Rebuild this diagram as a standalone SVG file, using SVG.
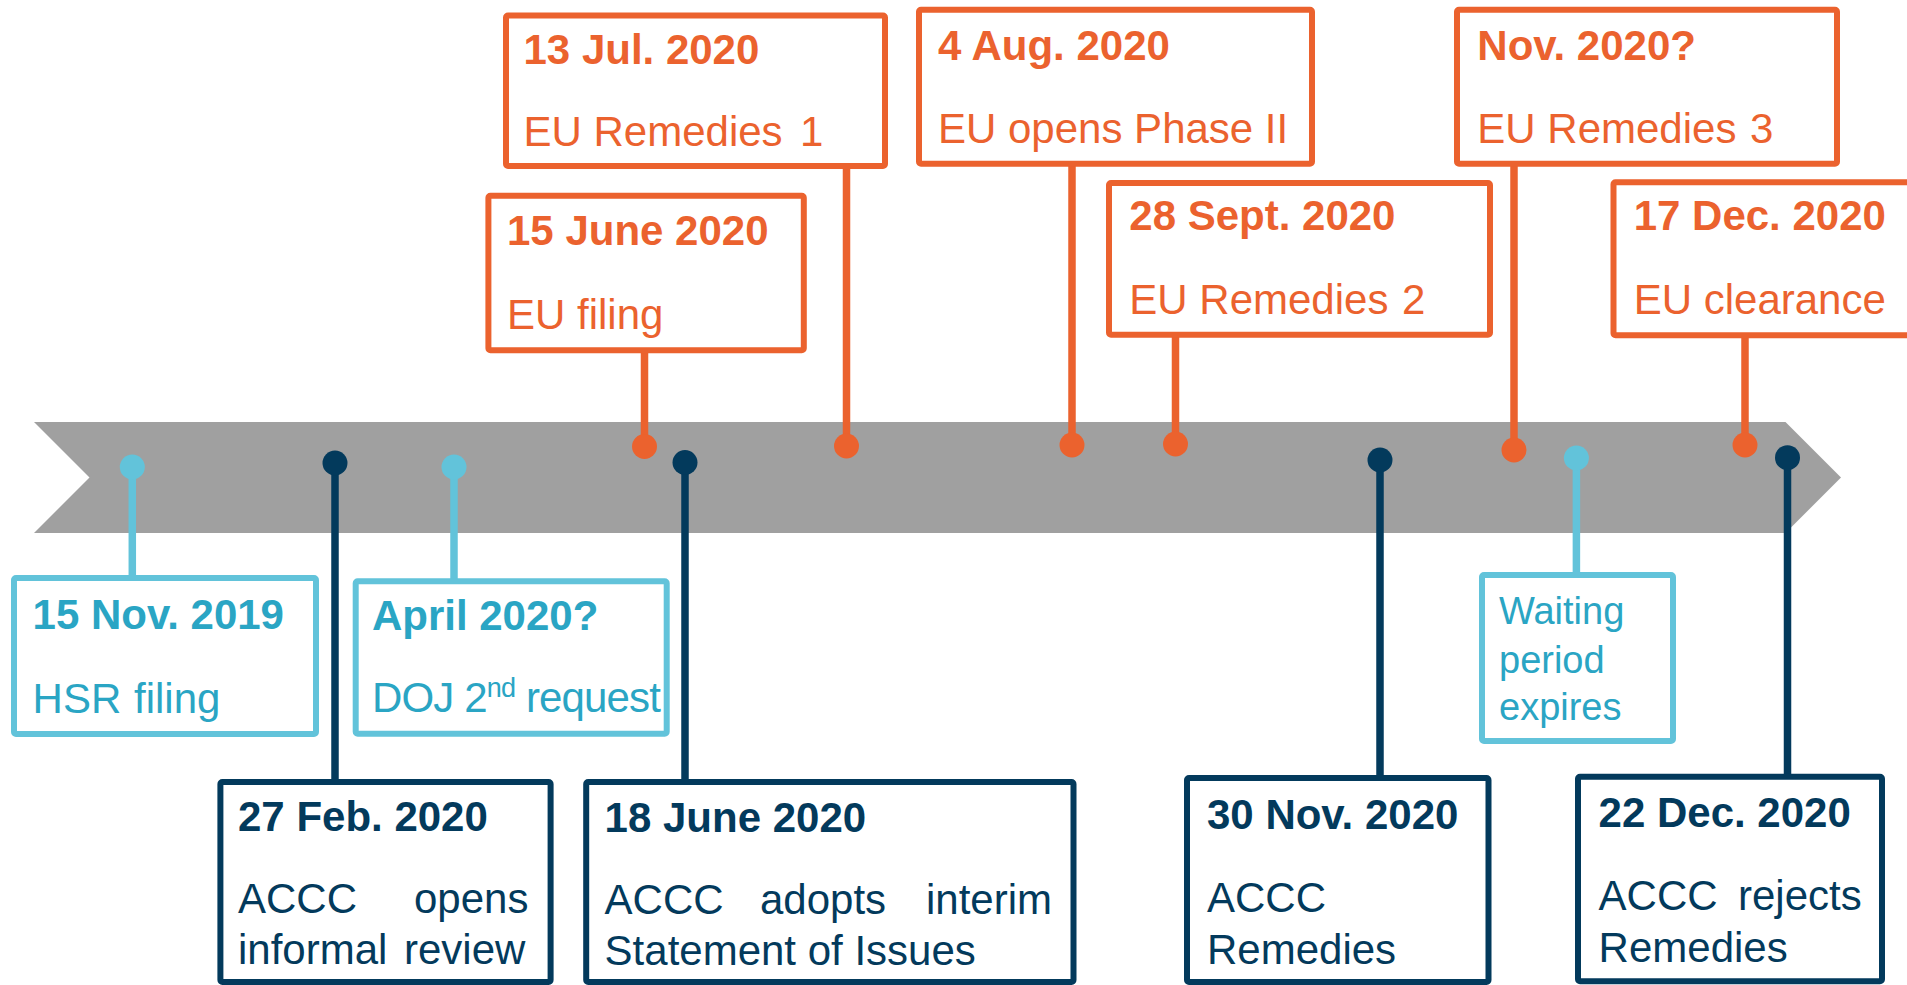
<svg xmlns="http://www.w3.org/2000/svg" width="1907" height="985" viewBox="0 0 1907 985">
  <style>
    text { font-family: "Liberation Sans", Arial, sans-serif; font-size: 42px; }
    .date { font-weight: bold; }
    .box { fill: #ffffff; stroke-width: 6; }
    .eu .box { stroke: #EB622E; }
    .eu text { fill: #EB622E; }
    .us .box { stroke: #62C3DA; }
    .us text { fill: #2AA5C4; }
    .au .box { stroke: #033A5C; }
    .au text { fill: #033A5C; }
    .small { font-size: 38px; }
    .stem { stroke-width: 7.5; fill: none; }
    .stem.eu-c { stroke: #EB622E; }
    .stem.us-c { stroke: #62C3DA; }
    .stem.au-c { stroke: #033A5C; }
    .dot-eu { fill: #EB622E; }
    .dot-us { fill: #62C3DA; }
    .dot-au { fill: #033A5C; }
  </style>

  <rect width="1907" height="985" fill="#ffffff"/>

  <!-- timeline banner -->
  <polygon id="timeline" points="34,422 1785.5,422 1841,477.5 1785.5,533 34,533 89.5,477.5" fill="#A0A0A0"/>

  <!-- stems and markers -->
  <g id="connectors">
    <line class="stem us-c" x1="132.3" y1="467" x2="132.3" y2="578"/>
    <line class="stem au-c" x1="335" y1="463" x2="335" y2="782"/>
    <line class="stem us-c" x1="454" y1="467" x2="454" y2="581"/>
    <line class="stem eu-c" x1="644.5" y1="350" x2="644.5" y2="446.5"/>
    <line class="stem au-c" x1="685" y1="462.5" x2="685" y2="782"/>
    <line class="stem eu-c" x1="846.5" y1="166" x2="846.5" y2="446"/>
    <line class="stem eu-c" x1="1072" y1="164" x2="1072" y2="445"/>
    <line class="stem eu-c" x1="1175.5" y1="335" x2="1175.5" y2="444"/>
    <line class="stem au-c" x1="1380" y1="460" x2="1380" y2="778"/>
    <line class="stem eu-c" x1="1514" y1="164" x2="1514" y2="450"/>
    <line class="stem us-c" x1="1576.4" y1="458" x2="1576.4" y2="575"/>
    <line class="stem eu-c" x1="1745" y1="336" x2="1745" y2="445"/>
    <line class="stem au-c" x1="1787.5" y1="457.7" x2="1787.5" y2="777"/>

    <circle class="dot-us" cx="132.3" cy="467" r="12.5"/>
    <circle class="dot-au" cx="335" cy="463" r="12.5"/>
    <circle class="dot-us" cx="454" cy="467" r="12.5"/>
    <circle class="dot-eu" cx="644.5" cy="446.5" r="12.5"/>
    <circle class="dot-au" cx="685" cy="462.5" r="12.5"/>
    <circle class="dot-eu" cx="846.5" cy="446" r="12.5"/>
    <circle class="dot-eu" cx="1072" cy="445" r="12.5"/>
    <circle class="dot-eu" cx="1175.5" cy="444" r="12.5"/>
    <circle class="dot-au" cx="1380" cy="460" r="12.5"/>
    <circle class="dot-eu" cx="1514" cy="450" r="12.5"/>
    <circle class="dot-us" cx="1576.4" cy="458" r="12.5"/>
    <circle class="dot-eu" cx="1745" cy="445" r="12.5"/>
    <circle class="dot-au" cx="1787.5" cy="457.7" r="12.5"/>
  </g>

  <!-- EU events (top row) -->
  <g id="eu-13-jul-2020" class="eu">
    <rect class="box" x="506" y="15.5" width="379" height="150.5" rx="2"/>
    <text class="date" x="523.5" y="63.5">13 Jul. 2020</text>
    <text x="523.5" y="145.5">EU Remedies <tspan x="800">1</tspan></text>
  </g>
  <g id="eu-15-june-2020" class="eu">
    <rect class="box" x="488.4" y="195.7" width="315.4" height="154.6" rx="2"/>
    <text class="date" x="507" y="245">15 June 2020</text>
    <text x="507" y="328.5">EU filing</text>
  </g>
  <g id="eu-4-aug-2020" class="eu">
    <rect class="box" x="919" y="9.7" width="393" height="154" rx="2"/>
    <text class="date" x="938" y="60">4 Aug. 2020</text>
    <text x="938" y="142.5">EU opens Phase II</text>
  </g>
  <g id="eu-28-sept-2020" class="eu">
    <rect class="box" x="1109" y="183" width="381" height="151.7" rx="2"/>
    <text class="date" x="1129.3" y="230">28 Sept. 2020</text>
    <text x="1129.3" y="314.3">EU Remedies <tspan x="1402">2</tspan></text>
  </g>
  <g id="eu-nov-2020" class="eu">
    <rect class="box" x="1457" y="9.7" width="380" height="154" rx="2"/>
    <text class="date" x="1477.3" y="60">Nov. 2020?</text>
    <text x="1477.3" y="142.5">EU Remedies <tspan x="1750">3</tspan></text>
  </g>
  <g id="eu-17-dec-2020" class="eu">
    <rect class="box" x="1613.5" y="182.3" width="310" height="153" rx="2"/>
    <text class="date" x="1633.7" y="230">17 Dec. 2020</text>
    <text x="1633.7" y="314.3">EU clearance</text>
  </g>

  <!-- US events (middle row) -->
  <g id="us-15-nov-2019" class="us">
    <rect class="box" x="14" y="578" width="302" height="156" rx="2"/>
    <text class="date" x="32.6" y="629.3">15 Nov. 2019</text>
    <text x="32.6" y="712.7">HSR <tspan x="134">filing</tspan></text>
  </g>
  <g id="us-april-2020" class="us">
    <rect class="box" x="355.7" y="581.3" width="311" height="152.4" rx="2"/>
    <text class="date" x="371.9" y="630">April 2020?</text>
    <text x="371.9" y="711.7" textLength="289" lengthAdjust="spacing">DOJ 2<tspan font-size="27" baseline-shift="super">nd</tspan> request</text>
  </g>
  <g id="us-waiting-period" class="us">
    <rect class="box" x="1482" y="575" width="191" height="166" rx="2"/>
    <text class="small" x="1499" y="624">Waiting</text>
    <text class="small" x="1499" y="672.5">period</text>
    <text class="small" x="1499" y="720">expires</text>
  </g>

  <!-- ACCC events (bottom row) -->
  <g id="au-27-feb-2020" class="au">
    <rect class="box" x="220.4" y="782" width="330.2" height="200" rx="2"/>
    <text class="date" x="238" y="831">27 Feb. 2020</text>
    <text x="238" y="913.3">ACCC<tspan x="414">opens</tspan></text>
    <text x="238" y="964">informal<tspan x="404">review</tspan></text>
  </g>
  <g id="au-18-june-2020" class="au">
    <rect class="box" x="586.2" y="782" width="487.3" height="200" rx="2"/>
    <text class="date" x="604.6" y="831.7">18 June 2020</text>
    <text x="604.6" y="914">ACCC<tspan x="760">adopts</tspan><tspan x="926">interim</tspan></text>
    <text x="604.6" y="965">Statement of Issues</text>
  </g>
  <g id="au-30-nov-2020" class="au">
    <rect class="box" x="1187" y="778" width="301.5" height="204" rx="2"/>
    <text class="date" x="1207" y="828.8">30 Nov. 2020</text>
    <text x="1207" y="912.4">ACCC</text>
    <text x="1207" y="963.7">Remedies</text>
  </g>
  <g id="au-22-dec-2020" class="au">
    <rect class="box" x="1578" y="776.8" width="304" height="204.5" rx="2"/>
    <text class="date" x="1598.6" y="827">22 Dec. 2020</text>
    <text x="1598.6" y="910">ACCC<tspan x="1738">rejects</tspan></text>
    <text x="1598.6" y="961.8">Remedies</text>
  </g>
</svg>
